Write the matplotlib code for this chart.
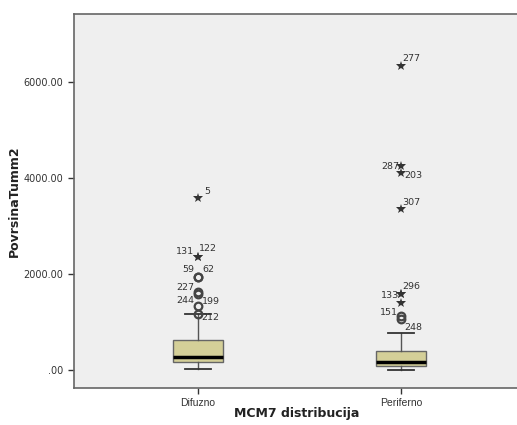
import matplotlib.pyplot as plt

# box summary per MCM7 group
groups = ['Difuzno', 'Periferno']
q1 = [173, 90]
median = [271, 173]
q3 = [625, 396]
whisker_lo = [21, 0]
whisker_hi = [1167, 777]

# outliers: (case id, value, kind)  'o' = outlier, '*' = extreme
difuzno_out = [
    (5, 3590, '*'), (131, 2347, '*'), (122, 2347, '*'),
    (59, 1944, 'o'), (62, 1944, 'o'), (227, 1631, 'o'),
    (244, 1583, 'o'), (199, 1333, 'o'), (212, 1175, 'o'),
]
periferno_out = [
    (277, 6333, '*'), (287, 4250, '*'), (203, 4110, '*'),
    (307, 3354, '*'), (296, 1583, '*'), (133, 1583, '*'),
    (None, 1389, '*'), (151, 1125, 'o'), (248, 1062, 'o'),
]

# where each case label sits relative to its point (pixels, ha)
label_pos = {
    5: (6, 6, 'left'), 131: (-4, 6, 'right'), 122: (1, 9, 'left'),
    59: (-4, 7, 'right'), 62: (4, 7, 'left'),
    227: (-4, 4, 'right'), 244: (-4, -6, 'right'), 199: (4, 5, 'left'),
    212: (3, -4, 'left'),
    277: (1, 8, 'left'), 287: (-2, 0, 'right'), 203: (3, -3, 'left'),
    307: (1, 7, 'left'), 296: (1, 8, 'left'), 133: (-2, -1, 'right'),
    151: (-3, 4, 'right'), 248: (3, -8, 'left'),
}

fig = plt.figure(figsize=(5.17, 4.25), dpi=100)
ax = fig.add_axes([0.1431, 0.087, 0.86, 0.88])
ax.set_facecolor('#efefef')

stats = []
for i, g in enumerate(groups):
    stats.append(dict(label=g, q1=q1[i], med=median[i], q3=q3[i],
                      whislo=whisker_lo[i], whishi=whisker_hi[i], fliers=[]))

ax.bxp(stats, positions=[1, 2], widths=0.246, patch_artist=True,
       showfliers=False,
       boxprops=dict(facecolor='#d4cf98', edgecolor='#666666', linewidth=1),
       medianprops=dict(color='black', linewidth=2.5),
       whiskerprops=dict(color='#555555', linewidth=1),
       capprops=dict(color='#333333', linewidth=1.3),
       capwidths=0.128)

for pos, outs in zip([1, 2], [difuzno_out, periferno_out]):
    for case, val, kind in outs:
        if kind == 'o':
            ax.plot(pos, val, marker='o', ms=5.5, mfc='none', mec='#444444',
                    mew=1.6, zorder=4)
        else:
            ax.plot(pos, val, marker='*', ms=7, color='#333333', mew=0,
                    zorder=4)
        if case is not None:
            dx, dy, ha = label_pos[case]
            ax.annotate(str(case), (pos, val), xytext=(dx, dy),
                        textcoords='offset pixels', ha=ha, va='center',
                        fontsize=6.8, color='#333333')

ax.set_xlim(0.389, 2.58)
ax.set_ylim(-375, 7417)
ax.set_yticks([0, 2000, 4000, 6000])
ax.set_yticklabels(['.00', '2000.00', '4000.00', '6000.00'])
ax.set_xticks([1, 2])
ax.set_xticklabels(groups, fontfamily='Liberation Sans')
ax.tick_params(axis='y', labelsize=7, colors='#333333', length=4, width=1)
ax.tick_params(axis='x', labelsize=7.5, colors='#333333', length=4, width=1,
               pad=3)

for side in ['left', 'bottom', 'top']:
    ax.spines[side].set_color('#666666')
    ax.spines[side].set_linewidth(1.2)
ax.spines['right'].set_visible(False)

ax.set_ylabel('PovrsinaTumm2', fontsize=9, fontweight='bold', color='#222222')
ax.yaxis.set_label_coords(-0.12, 0.5)
ax.set_xlabel('MCM7 distribucija', fontsize=9, fontweight='bold',
              color='#222222')
ax.xaxis.set_label_coords(0.5, -0.052)

fig.savefig('out.png', dpi=100)
